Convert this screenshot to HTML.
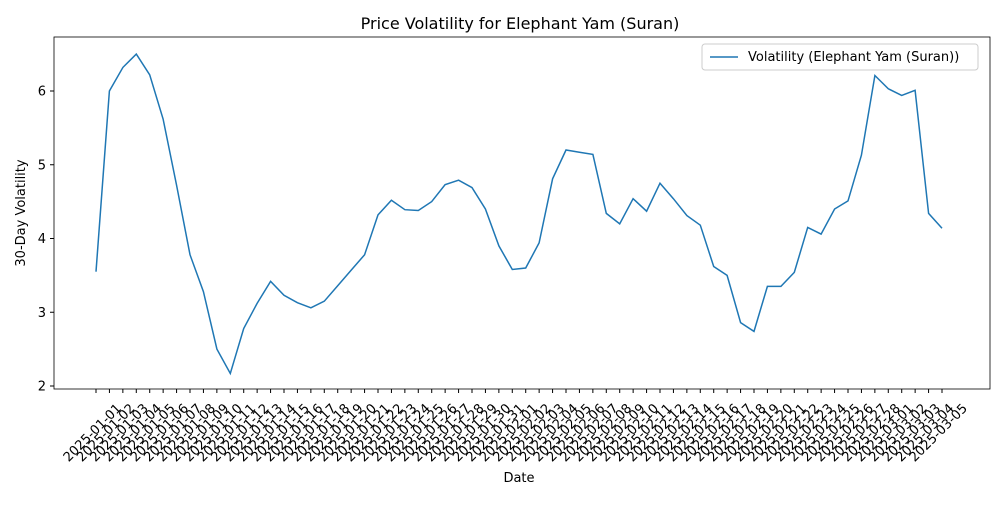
<!DOCTYPE html>
<html><head><meta charset="utf-8"><style>
body{margin:0;background:#fff;font-family:"Liberation Sans","DejaVu Sans",sans-serif}
</style></head><body>
<svg id="chart" width="1000" height="500" xmlns="http://www.w3.org/2000/svg" font-family="DejaVu Sans, Liberation Sans, sans-serif">
<rect width="1000" height="500" fill="#fff"/>
<text x="520" y="29" font-size="16" text-anchor="middle">Price Volatility for Elephant Yam (Suran)</text>
<rect x="54" y="37" width="936" height="352" fill="none" stroke="#000" stroke-width="0.8"/>
<g id="yaxis"></g>
<g id="xaxis"></g>
<path id="line" fill="none" stroke="#1f77b4" stroke-width="1.5"/>
<text x="519" y="482" font-size="13" text-anchor="middle">Date</text>
<text transform="translate(25,213) rotate(-90)" font-size="13" text-anchor="middle">30-Day Volatility</text>
<g>
<rect x="702" y="44" width="276" height="26" fill="#fff" stroke="#ccc" rx="3"/>
<line x1="710" y1="57" x2="738" y2="57" stroke="#1f77b4" stroke-width="1.5"/>
<text x="748" y="61" font-size="13">Volatility (Elephant Yam (Suran))</text>
</g>
</svg>
<script>
const values=[3.55,6.0,6.32,6.5,6.22,5.62,4.72,3.78,3.28,2.5,2.17,2.78,3.12,3.42,3.23,3.13,3.06,3.15,3.36,3.57,3.78,4.32,4.52,4.39,4.38,4.5,4.73,4.79,4.69,4.4,3.9,3.58,3.6,3.94,4.81,5.2,5.17,5.14,4.34,4.2,4.54,4.37,4.75,4.54,4.31,4.18,3.62,3.5,2.86,2.74,3.35,3.35,3.54,4.15,4.06,4.4,4.51,5.13,6.21,6.03,5.94,6.01,4.34,4.14];
const yTicks=[2,3,4,5,6];
const dates=[];
(function(){let d=new Date(Date.UTC(2025,0,1));for(let i=0;i<values.length;i++){dates.push(d.toISOString().slice(0,10));d.setUTCDate(d.getUTCDate()+1);}})();
const NS="http://www.w3.org/2000/svg";
const x=i=>96+i*(942-96)/(values.length-1);
const y=v=>386-(v-2)*(386-91)/4;
const ya=document.getElementById('yaxis'),xa=document.getElementById('xaxis');
yTicks.forEach(t=>{
 const l=document.createElementNS(NS,'line');l.setAttribute('x1',50);l.setAttribute('x2',54);l.setAttribute('y1',y(t));l.setAttribute('y2',y(t));l.setAttribute('stroke','#000');
 
 
 ya.appendChild(l);
 const tx=document.createElementNS(NS,'text');tx.setAttribute('x',46);tx.setAttribute('y',y(t)+4.5);tx.setAttribute('font-size','13');tx.setAttribute('text-anchor','end');tx.textContent=t;
 
 
 ya.appendChild(tx);
});
dates.forEach((d,i)=>{
 const l=document.createElementNS(NS,'line');l.setAttribute('x1',x(i));l.setAttribute('x2',x(i));l.setAttribute('y1',389);l.setAttribute('y2',393);l.setAttribute('stroke','#000');
 
 
 xa.appendChild(l);
 const tx=document.createElementNS(NS,'text');tx.setAttribute('font-size','13');tx.setAttribute('text-anchor','end');
 tx.setAttribute('transform',`translate(${x(i)+26},${409}) rotate(-45)`);tx.textContent=d;
 
 
 xa.appendChild(tx);
});
document.getElementById('line').setAttribute('d',values.map((v,i)=>(i?'L':'M')+x(i).toFixed(1)+','+y(v).toFixed(1)).join(''));
</script>
</body></html>
